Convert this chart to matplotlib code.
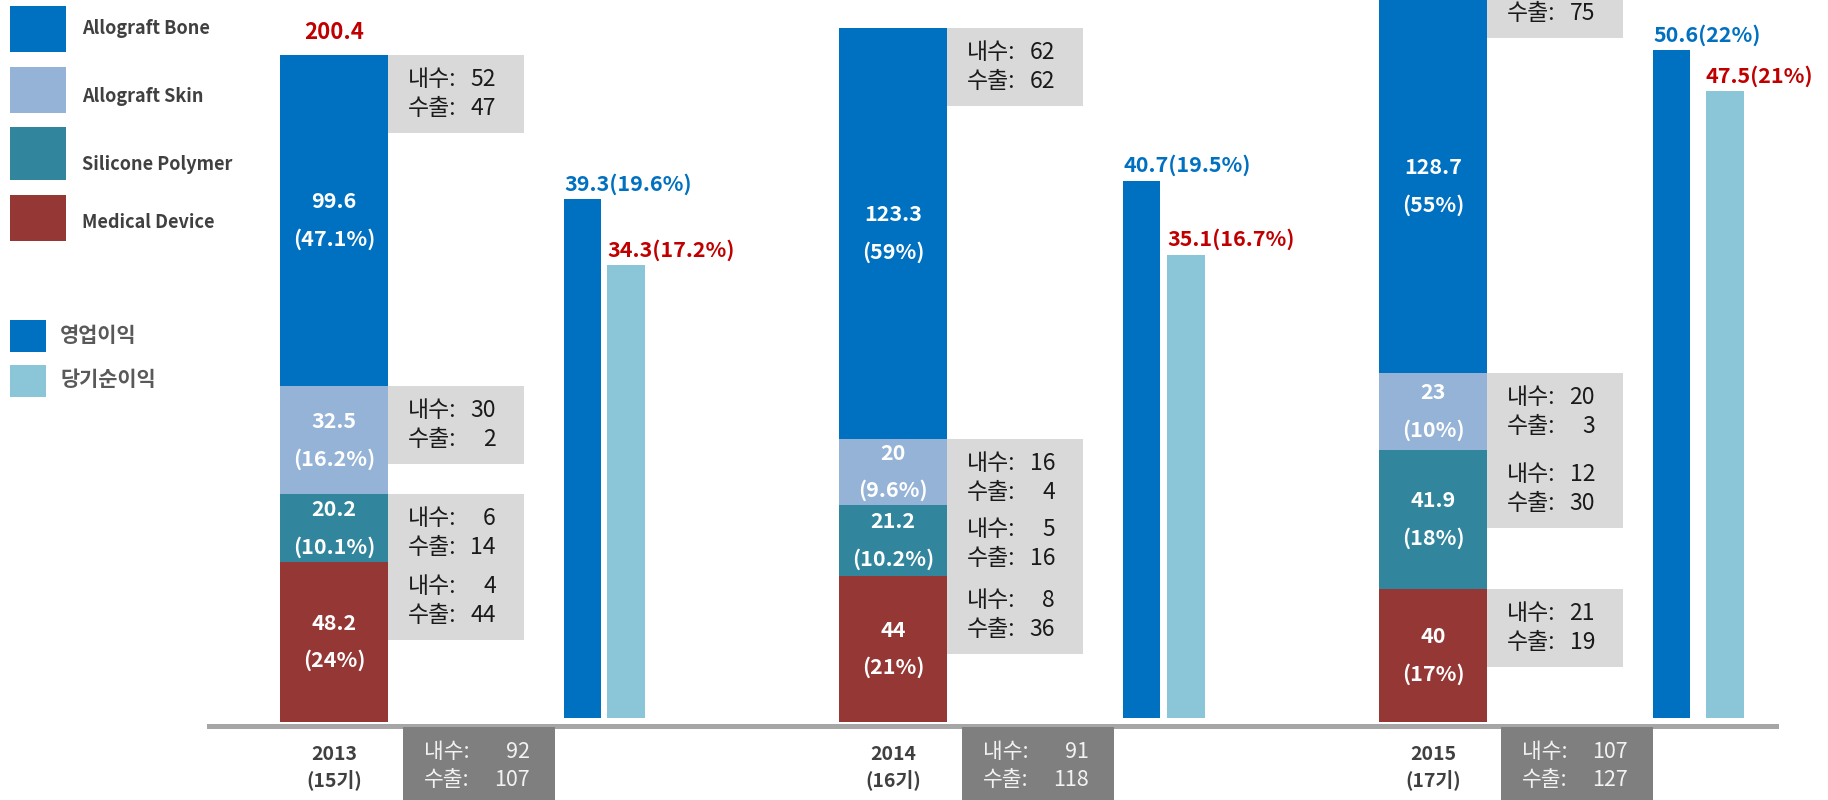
import matplotlib
matplotlib.use('Agg')
import matplotlib.pyplot as plt
from matplotlib.patches import Rectangle

plt.rcParams['font.family'] = ['Noto Sans CJK KR', 'DejaVu Sans']

# ---------------- data ----------------
years = ['2013', '2014', '2015']
periods = ['(15기)', '(16기)', '(17기)']

# stacked revenue segments (bottom -> top)
medical = [48.2, 44, 40]
silicone = [20.2, 21.2, 41.9]
skin = [32.5, 20, 23]
bone = [99.6, 123.3, 128.7]

medical_pct = ['24%', '21%', '17%']
silicone_pct = ['10.1%', '10.2%', '18%']
skin_pct = ['16.2%', '9.6%', '10%']
bone_pct = ['47.1%', '59%', '55%']

# domestic (내수) / export (수출) split per segment
medical_dom = [4, 8, 21]
medical_exp = [44, 36, 19]
silicone_dom = [6, 5, 12]
silicone_exp = [14, 16, 30]
skin_dom = [30, 16, 20]
skin_exp = [2, 4, 3]
bone_dom = [52, 62, 54]
bone_exp = [47, 62, 75]

total_dom = [92, 91, 107]
total_exp = [107, 118, 127]
revenue_total_2013 = 200.4

op_profit = [39.3, 40.7, 50.6]
op_pct = ['19.6%', '19.5%', '22%']
net_profit = [34.3, 35.1, 47.5]
net_pct = ['17.2%', '16.7%', '21%']

legend_segments = ['Allograft Bone', 'Allograft Skin', 'Silicone Polymer', 'Medical Device']
legend_profit = ['영업이익', '당기순이익']

# ---------------- style / layout ----------------
C_BONE = '#0070C0'
C_SKIN = '#95B3D7'
C_SIL = '#31859C'
C_MED = '#953735'
C_OP = '#0070C0'
C_NET = '#8AC6D8'
C_BOX = '#D9D9D9'
C_DARK = '#7F7F7F'
C_RED = '#C00000'

W, H = 1828, 800
BASE_STACK = 722
BASE_PROFIT = 718

stack_left = [280, 839, 1379]
stack_w = 108
box_w, box_h = 136, 78
box_min_top = -40
op_left = [564, 1123, 1653]
net_left = [607, 1167, 1706]
dark_left = [403, 962, 1501]

fig = plt.figure(figsize=(W / 100, H / 100), dpi=100)

ax = fig.add_axes([0, (H - BASE_STACK) / H, 1, BASE_STACK / H])
ax.set_xlim(0, W)
ax.set_ylim(0, 217.0)
ax.axis('off')

axp = fig.add_axes([0, (H - BASE_PROFIT) / H, 1, BASE_PROFIT / H])
axp.set_xlim(0, W)
axp.set_ylim(0, 54.4)
axp.axis('off')

ov = fig.add_axes([0, 0, 1, 1])
ov.set_xlim(0, W)
ov.set_ylim(H, 0)
ov.axis('off')


def data_to_px(a, yval):
    disp = a.transData.transform((0, yval))
    return ov.transData.inverted().transform(disp)[1]


# ---------------- stacked bars ----------------
layers = [
    (medical, medical_pct, medical_dom, medical_exp, C_MED),
    (silicone, silicone_pct, silicone_dom, silicone_exp, C_SIL),
    (skin, skin_pct, skin_dom, skin_exp, C_SKIN),
    (bone, bone_pct, bone_dom, bone_exp, C_BONE),
]
ytop = ax.get_ylim()[1]
bottom = [0.0, 0.0, 0.0]
for vals, pcts, dom, exp, color in layers:
    ax.bar(stack_left, vals, width=stack_w, bottom=bottom, align='edge',
           color=color, linewidth=0)
    for i in range(len(years)):
        top = bottom[i] + vals[i]
        mid = (bottom[i] + min(top, ytop)) / 2
        cx = stack_left[i] + stack_w / 2
        ax.annotate(f'{vals[i]:g}', (cx, mid), xytext=(0, 13.5),
                    textcoords='offset points', ha='center', va='center',
                    color='white', fontsize=15.5, fontweight='bold')
        ax.annotate(f'({pcts[i]})', (cx, mid), xytext=(0, -13.5),
                    textcoords='offset points', ha='center', va='center',
                    color='white', fontsize=15.5, fontweight='bold')
        # domestic / export box
        ypx = max(data_to_px(ax, top), box_min_top)
        bx = stack_left[i] + stack_w
        ov.add_patch(Rectangle((bx, ypx), box_w, box_h, color=C_BOX, lw=0))
        yc = ypx + box_h / 2
        for dy, lab, num in ((-14.5, '내수:', dom[i]), (14.5, '수출:', exp[i])):
            if yc + dy < 0:
                continue  # line lies above the canvas, as in the original slide
            ov.text(bx + 20, yc + dy, lab, ha='left', va='center',
                    fontsize=16.5, color='#1A1A1A')
            ov.text(bx + 108, yc + dy, str(num), ha='right', va='center',
                    fontsize=16.5, color='#1A1A1A')
    bottom = [b + v for b, v in zip(bottom, vals)]

# total label (only visible one)
ax.annotate(f'{revenue_total_2013}', (stack_left[0] + stack_w / 2, bottom[0]),
            xytext=(0, 16), textcoords='offset points', ha='center', va='center',
            color=C_RED, fontsize=16, fontweight='bold')

# ---------------- profit bars ----------------
axp.bar(op_left, op_profit, width=37, align='edge', color=C_OP, linewidth=0)
axp.bar(net_left, net_profit, width=38, align='edge', color=C_NET, linewidth=0)
for i in range(len(years)):
    axp.annotate(f'{op_profit[i]}({op_pct[i]})', (op_left[i], op_profit[i]),
                 xytext=(0, 11), textcoords='offset points', ha='left', va='center',
                 color=C_OP, fontsize=15.5, fontweight='bold')
    axp.annotate(f'{net_profit[i]}({net_pct[i]})', (net_left[i], net_profit[i]),
                 xytext=(0, 11), textcoords='offset points', ha='left', va='center',
                 color=C_RED, fontsize=15.5, fontweight='bold')

# ---------------- baseline, year labels, totals ----------------
ov.add_patch(Rectangle((207, 724), 1779 - 207, 5, color='#A6A6A6', lw=0))
for i in range(len(years)):
    cx = stack_left[i] + stack_w / 2
    ov.text(cx, 754, years[i], ha='center', va='center', fontsize=14,
            fontweight='bold', color='#404040')
    ov.text(cx, 780, periods[i], ha='center', va='center', fontsize=14,
            fontweight='bold', color='#404040')
    dx = dark_left[i]
    ov.add_patch(Rectangle((dx, 727), 152, 73, color=C_DARK, lw=0))
    for yy, lab, num in ((752, '내수:', total_dom[i]), (780, '수출:', total_exp[i])):
        ov.text(dx + 21, yy, lab, ha='left', va='center', fontsize=15.5, color='#F2F2F2')
        ov.text(dx + 127, yy, str(num), ha='right', va='center', fontsize=15.5, color='#F2F2F2')

# ---------------- legend ----------------
leg_colors = [C_BONE, C_SKIN, C_SIL, C_MED]
leg_sq_y = [6, 67, 127, 195]
leg_sq_h = [46, 46, 53, 46]
leg_txt_y = [28, 96, 164, 223]
for name, col, sy, sh, ty in zip(legend_segments, leg_colors, leg_sq_y, leg_sq_h, leg_txt_y):
    ov.add_patch(Rectangle((10, sy), 56, sh, color=col, lw=0))
    ov.text(82, ty, name, ha='left', va='center', fontsize=13,
            fontweight='bold', color='#404040')

for name, col, sy, ty in zip(legend_profit, [C_OP, C_NET], [320, 365], [335, 380]):
    ov.add_patch(Rectangle((10, sy), 36, 32, color=col, lw=0))
    ov.text(60, ty, name, ha='left', va='center', fontsize=15,
            fontweight='bold', color='#595959')

fig.savefig('out.png', dpi=100, facecolor='white')
